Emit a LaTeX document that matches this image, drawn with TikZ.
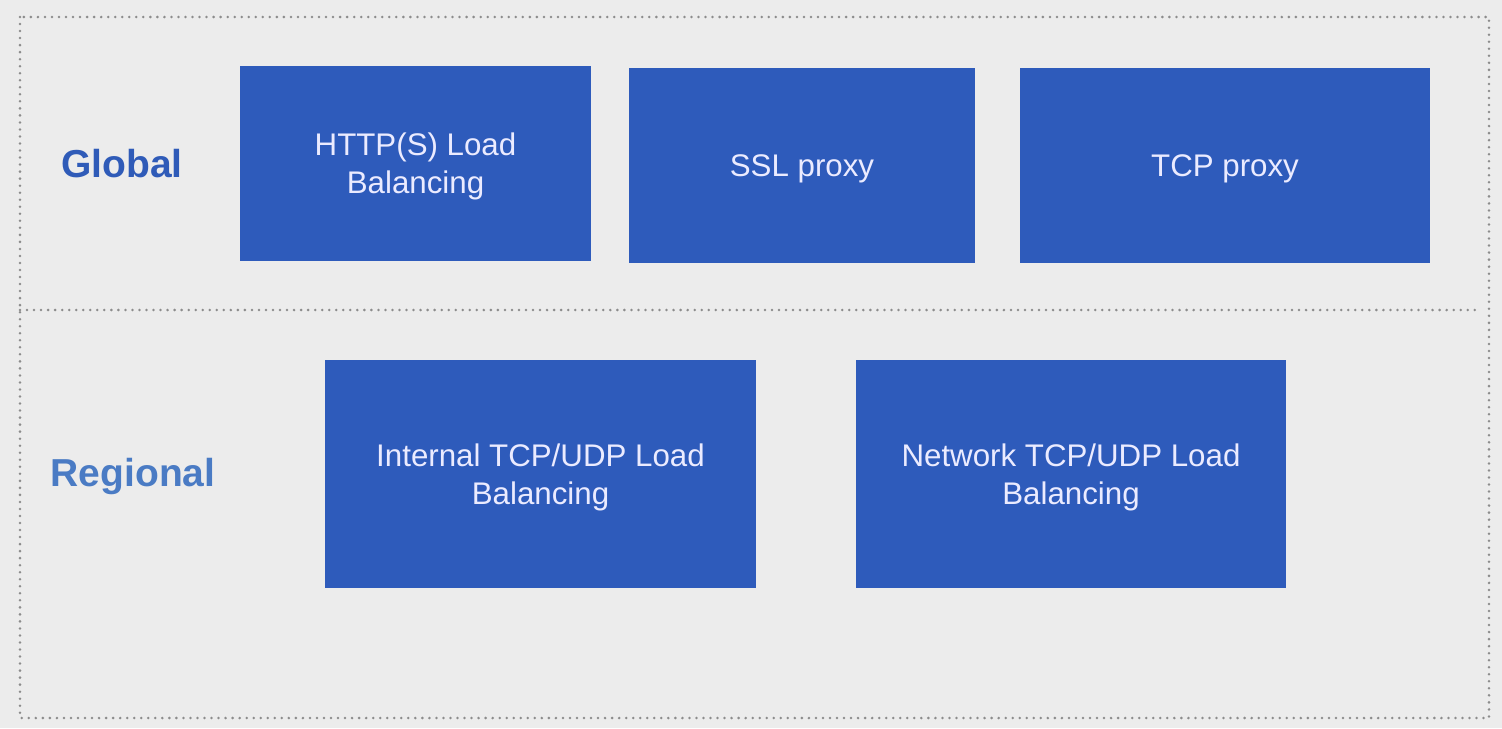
\documentclass[tikz,border=0pt]{standalone}
\usepackage{fontspec}
\setmainfont{Liberation Sans}
\definecolor{pagebg}{HTML}{ECECEC}
\definecolor{boxblue}{HTML}{2E5BBB}
\definecolor{globalblue}{HTML}{2F5BB8}
\definecolor{regionblue}{HTML}{4A7BC4}
\definecolor{dotgray}{HTML}{8C8C8C}
\tikzset{
  lbbox/.style={fill=boxblue, text=white!92!blue, inner sep=0pt, outer sep=0pt,
    align=center, text depth=0pt, font=\fontsize{17.8}{21.5}\selectfont},
  scopelabel/.style={font=\fontsize{22.2}{26}\selectfont\bfseries},
  dotline/.style={draw=dotgray, line width=1.6pt, line cap=round, dash pattern=on 0pt off 4pt}
}
\begin{document}
\begin{tikzpicture}[x=0.02cm,y=-0.02cm]
\useasboundingbox (0,0) rectangle (1502,728);
\fill[pagebg] (0,0) rectangle (1502,728);
% frame and divider
\draw[dotline] (20,17) rectangle (1489,718);
\draw[dotline] (20,310) -- (1478,310);
% scope labels
\node[scopelabel, text=globalblue] (global) at (122,164) {Global};
\node[scopelabel, text=regionblue] (regional) at (133,476) {Regional};
% global load balancers
\node[lbbox, minimum width=7.02cm, minimum height=3.9cm] (https) at (415.5,163.5) {HTTP(S) Load\\Balancing};
\node[lbbox, minimum width=6.92cm, minimum height=3.9cm] (ssl) at (802,165.5) {SSL proxy};
\node[lbbox, minimum width=8.2cm, minimum height=3.9cm] (tcp) at (1225,165.5) {TCP proxy};
% regional load balancers
\node[lbbox, minimum width=8.62cm, minimum height=4.56cm] (internal) at (540.5,474) {Internal TCP/UDP Load\\Balancing};
\node[lbbox, minimum width=8.6cm, minimum height=4.56cm] (network) at (1071,474) {Network TCP/UDP Load\\Balancing};
\end{tikzpicture}
\end{document}
